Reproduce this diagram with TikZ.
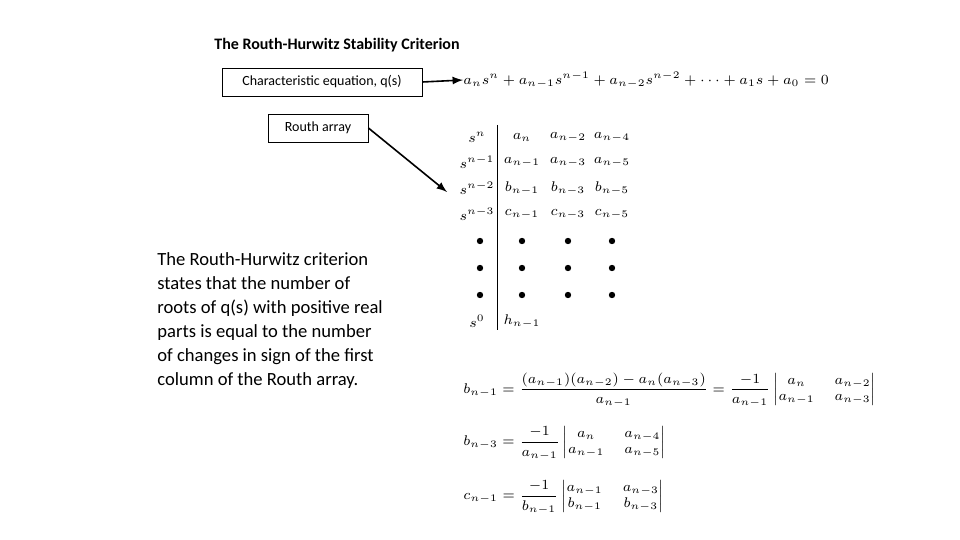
\documentclass[tikz,border=0pt]{standalone}
\usepackage{amsmath}
\usepackage{fontspec}
\setmainfont{Carlito}
\begin{document}
\begin{tikzpicture}[x=0.5pt,y=-0.5pt,
  lab/.style={draw,font=\fontsize{7}{8}\selectfont,inner sep=2pt,minimum height=14pt},
  m/.style={font=\fontsize{8}{9}\selectfont,inner sep=0pt},
  ms/.style={font=\fontsize{6.6}{8}\selectfont,inner sep=0pt},
  arr/.style={-latex,thick}]
\useasboundingbox (0,0) rectangle (960,540);
\node[font=\bfseries\fontsize{8}{9}\selectfont] (title) at (337,45) {The Routh-Hurwitz Stability Criterion};
\node[lab,minimum width=100pt] (ce) at (322,82) {Characteristic equation, q(s)};
\node[ms,anchor=west] (eq) at (463,80) {$a_n s^n + a_{n-1}s^{n-1} + a_{n-2}s^{n-2} + \cdots + a_1 s + a_0 = 0$};
\draw[arr] (ce.east) -- (eq.west);
\node[lab,minimum width=50pt] (ra) at (318,128) {Routh array};
\coordinate (rat) at (447,192);
\draw[arr] (ra.east) -- (rat);
\draw (497,125) -- (497,330);
\foreach \y/\a/\b/\c/\d in {137/s^n/a_n/a_{n-2}/a_{n-4},162/s^{n-1}/a_{n-1}/a_{n-3}/a_{n-5},188/s^{n-2}/b_{n-1}/b_{n-3}/b_{n-5},214/s^{n-3}/c_{n-1}/c_{n-3}/c_{n-5}}{
  \node[ms] at (477,\y) {$\a$};
  \node[ms] at (522,\y) {$\b$};
  \node[ms] at (568,\y) {$\c$};
  \node[ms] at (612,\y) {$\d$};}
\foreach \y in {241,268,295}{\foreach \x in {480,522,568,612}{\fill (\x,\y) circle (3.2);}}
\node[ms] at (477,321) {$s^0$};
\node[ms] at (522,321) {$h_{n-1}$};
\node[anchor=north west,align=left,font=\fontsize{9.3}{12}\selectfont,inner sep=0pt] (txt) at (157,252) {The Routh-Hurwitz criterion\\states that the number of\\roots of q(s) with positive real\\parts is equal to the number\\of changes in sign of the first\\column of the Routh array.};
\node[ms,anchor=west] (b1) at (463,390) {$b_{n-1}=\dfrac{(a_{n-1})(a_{n-2})-a_n(a_{n-3})}{a_{n-1}}=\dfrac{-1}{a_{n-1}}\left|\begin{matrix}a_n & a_{n-2}\\ a_{n-1} & a_{n-3}\end{matrix}\right|$};
\node[ms,anchor=west] (b3) at (463,443) {$b_{n-3}=\dfrac{-1}{a_{n-1}}\left|\begin{matrix}a_n & a_{n-4}\\ a_{n-1} & a_{n-5}\end{matrix}\right|$};
\node[ms,anchor=west] (c1) at (463,497) {$c_{n-1}=\dfrac{-1}{b_{n-1}}\left|\begin{matrix}a_{n-1} & a_{n-3}\\ b_{n-1} & b_{n-3}\end{matrix}\right|$};
\end{tikzpicture}
\end{document}
